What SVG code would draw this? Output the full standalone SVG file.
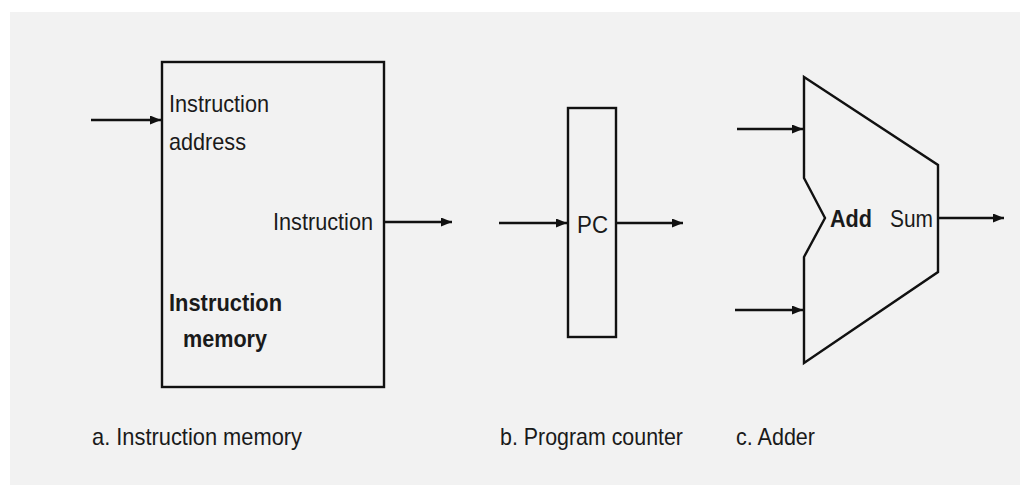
<svg xmlns="http://www.w3.org/2000/svg" width="1020" height="485" viewBox="0 0 1020 485">
  <defs>
    <marker id="arr" viewBox="0 0 11 9" refX="11" refY="4.5" markerWidth="11" markerHeight="9" markerUnits="userSpaceOnUse" orient="auto">
      <path d="M0,0 L11,4.5 L0,9 Z" fill="#111"/>
    </marker>
  </defs>
  <style>
    .t { font-family: "Liberation Sans", Arial, sans-serif; font-size: 24px; fill: #1a1a1a; }
    .b { font-weight: bold; }
    .shape { fill: none; stroke: #111; stroke-width: 2.4; }
    .wire { fill: none; stroke: #111; stroke-width: 2.5; }
  </style>
  <rect x="0" y="0" width="1020" height="485" fill="#ffffff"/>
  <rect x="10" y="12" width="1010" height="473" fill="#f2f2f2"/>

  <g id="instruction-memory">
    <rect class="shape" x="162" y="62" width="222" height="325"/>
    <text class="t" x="169" y="112" textLength="100" lengthAdjust="spacingAndGlyphs">Instruction</text>
    <text class="t" x="169" y="150" textLength="77" lengthAdjust="spacingAndGlyphs">address</text>
    <text class="t" x="273" y="230" textLength="100" lengthAdjust="spacingAndGlyphs">Instruction</text>
    <text class="t b" x="169" y="311" textLength="113" lengthAdjust="spacingAndGlyphs">Instruction</text>
    <text class="t b" x="183" y="347" textLength="84" lengthAdjust="spacingAndGlyphs">memory</text>
  </g>

  <g id="program-counter">
    <rect class="shape" x="568" y="108" width="48" height="229"/>
    <text class="t" x="577" y="233" textLength="31" lengthAdjust="spacingAndGlyphs">PC</text>
  </g>

  <g id="adder">
    <path class="shape" d="M804,77 L938,165 L938,272 L804,363 L804,257 L825,218 L804,178 Z"/>
    <text class="t b" x="830" y="227" textLength="42" lengthAdjust="spacingAndGlyphs">Add</text>
    <text class="t" x="890" y="227" textLength="43" lengthAdjust="spacingAndGlyphs">Sum</text>
  </g>

  <g id="connectors">
    <line class="wire" x1="91" y1="120" x2="161" y2="120" marker-end="url(#arr)"/>
    <line class="wire" x1="384" y1="222" x2="452" y2="222" marker-end="url(#arr)"/>
    <line class="wire" x1="499" y1="223" x2="567" y2="223" marker-end="url(#arr)"/>
    <line class="wire" x1="616" y1="223" x2="683" y2="223" marker-end="url(#arr)"/>
    <line class="wire" x1="737" y1="129" x2="803" y2="129" marker-end="url(#arr)"/>
    <line class="wire" x1="735" y1="310" x2="803" y2="310" marker-end="url(#arr)"/>
    <line class="wire" x1="938" y1="218" x2="1004" y2="218" marker-end="url(#arr)"/>
  </g>

  <g id="captions">
    <text class="t" x="92" y="445" textLength="210" lengthAdjust="spacingAndGlyphs">a. Instruction memory</text>
    <text class="t" x="500" y="445" textLength="183" lengthAdjust="spacingAndGlyphs">b. Program counter</text>
    <text class="t" x="736" y="445" textLength="79" lengthAdjust="spacingAndGlyphs">c. Adder</text>
  </g>
</svg>
